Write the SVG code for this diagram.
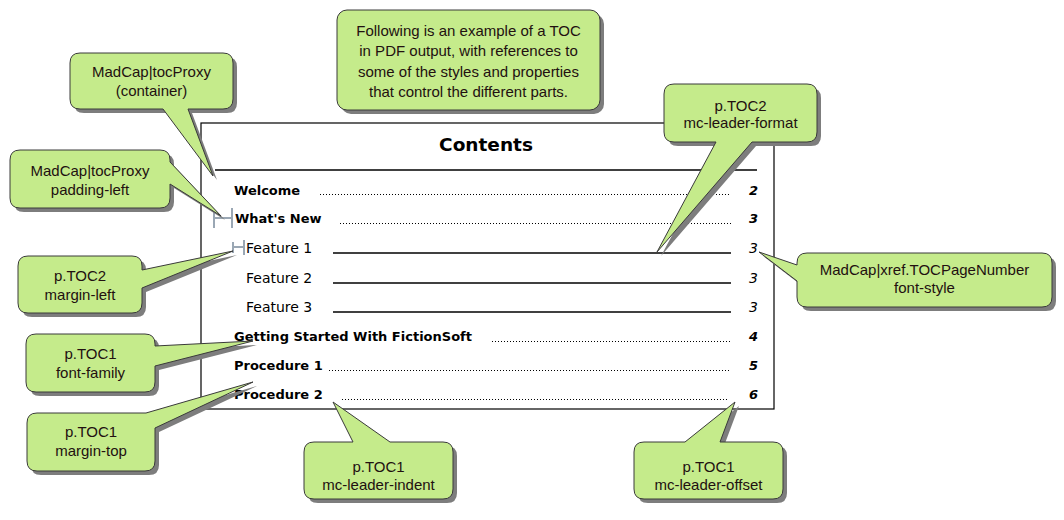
<svg xmlns="http://www.w3.org/2000/svg" xmlns:xlink="http://www.w3.org/1999/xlink" width="1064" height="520" viewBox="0 0 1064 520">
<style>
.bg{fill:#ffffff}
.shadow{fill:#7d7d7d}
.call{fill:#c5eb8b;stroke:#3a3a3a;stroke-width:1}
.ct{font-family:"Liberation Sans",Arial,sans-serif;font-size:15px;fill:#221010;text-anchor:middle}
.toc{fill:#ffffff;stroke:#000;stroke-width:1.2}
.t1{font-family:"DejaVu Sans",Verdana,sans-serif;font-size:13px;font-weight:bold;fill:#000}
.t2{font-family:"DejaVu Sans",Verdana,sans-serif;font-size:14px;fill:#000}
.p1{font-family:"DejaVu Sans",Verdana,sans-serif;font-size:13px;font-weight:bold;font-style:italic;fill:#000;text-anchor:end}
.p2{font-family:"DejaVu Sans",Verdana,sans-serif;font-size:14px;font-style:italic;fill:#000;text-anchor:end}
.dot{stroke:#000;stroke-width:1;stroke-dasharray:1 2;fill:none;shape-rendering:crispEdges}
.sol{stroke:#000;stroke-width:1.3;fill:none}
.mk{stroke:#9aa7b4;stroke-width:2;fill:none}
</style>
<rect class="bg" x="0" y="0" width="1064" height="520"/>

<g id="toc">
<rect class="toc" x="201" y="123" width="573" height="286"/>
<text x="486" y="151" font-family="DejaVu Sans, Verdana, sans-serif" font-size="18.5" font-weight="bold" text-anchor="middle">Contents</text>
<line class="sol" x1="215" y1="170" x2="757" y2="170"/>
<text class="t1" x="234" y="195">Welcome</text>
<line class="dot" x1="320" y1="194.5" x2="729" y2="194.5"/>
<text class="p1" x="758" y="195">2</text>
<text class="t1" x="235" y="223">What's New</text>
<line class="dot" x1="340" y1="223.5" x2="731" y2="223.5"/>
<text class="p1" x="758" y="223">3</text>
<text class="t2" x="246" y="253">Feature 1</text>
<line class="sol" x1="333" y1="253" x2="731" y2="253"/>
<text class="p2" x="758" y="253">3</text>
<text class="t2" x="246" y="283">Feature 2</text>
<line class="sol" x1="333" y1="283" x2="731" y2="283"/>
<text class="p2" x="758" y="283">3</text>
<text class="t2" x="246" y="312">Feature 3</text>
<line class="sol" x1="333" y1="312" x2="731" y2="312"/>
<text class="p2" x="758" y="312">3</text>
<text class="t1" x="234" y="341">Getting Started With FictionSoft</text>
<line class="dot" x1="492" y1="341.5" x2="731" y2="341.5"/>
<text class="p1" x="758" y="341">4</text>
<text class="t1" x="234" y="370">Procedure 1</text>
<line class="dot" x1="329" y1="370.5" x2="729" y2="370.5"/>
<text class="p1" x="758" y="370">5</text>
<text class="t1" x="234" y="399">Procedure 2</text>
<line class="dot" x1="342" y1="399.5" x2="729" y2="399.5"/>
<text class="p1" x="758" y="399">6</text>
<path class="mk" d="M214,212 V228 M232,208 V228 M214,218 H232"/>
<path class="mk" d="M233,242 V253 M244,240 V255 M233,247 H244"/>
</g>

<defs>
<path id="c1" d="M80,53 H223 Q233,53 233,63 V99 Q233,109 223,109 H188 L213,176 L163,109 H80 Q70,109 70,99 V63 Q70,53 80,53 Z"/>
<path id="c2" d="M20,150 H160 Q170,150 170,160 V162 L221,216 L170,184 V198 Q170,208 160,208 H20 Q10,208 10,198 V160 Q10,150 20,150 Z"/>
<path id="c3" d="M28,256 H132 Q142,256 142,266 V270 L233,251 L142,288 V303 Q142,313 132,313 H28 Q18,313 18,303 V266 Q18,256 28,256 Z"/>
<path id="c4" d="M36,334 H145 Q155,334 155,344 V346 L253,341 L155,366 V382 Q155,392 145,392 H36 Q26,392 26,382 V344 Q26,334 36,334 Z"/>
<path id="c5" d="M37,413 H146 L253,382 L155,428 V461 Q155,471 145,471 H37 Q27,471 27,461 V423 Q27,413 37,413 Z"/>
<path id="c6" d="M314,442 H353 L333,402 L390,442 H443 Q453,442 453,452 V489 Q453,499 443,499 H314 Q304,499 304,489 V452 Q304,442 314,442 Z"/>
<path id="c7" d="M644,442 H685 L735,402 L720,442 H773 Q783,442 783,452 V489 Q783,499 773,499 H644 Q634,499 634,489 V452 Q634,442 644,442 Z"/>
<path id="c8" d="M807,253 H1042 Q1052,253 1052,263 V297 Q1052,307 1042,307 H807 Q797,307 797,297 V281 L759,252 L797,265 V263 Q797,253 807,253 Z"/>
<path id="c9" d="M674,84 H807 Q817,84 817,94 V132 Q817,142 807,142 H752 L657,252 L716,142 H674 Q664,142 664,132 V94 Q664,84 674,84 Z"/>
<rect id="c10" x="337" y="10" width="263" height="100" rx="10" ry="10"/>
</defs>

<g id="connectors"></g>

<g id="callout-top">
<use xlink:href="#c10" class="shadow" transform="translate(4,4)"/>
<use xlink:href="#c10" class="call"/>
<text class="ct" x="468.5" y="36">Following is an example of a TOC</text>
<text class="ct" x="468.5" y="56">in PDF output, with references to</text>
<text class="ct" x="468.5" y="77">some of the styles and properties</text>
<text class="ct" x="468.5" y="97">that control the different parts.</text>
</g>

<g id="callout-container">
<use xlink:href="#c1" class="shadow" transform="translate(4,4)"/>
<use xlink:href="#c1" class="call"/>
<text class="ct" x="151.5" y="77">MadCap|tocProxy</text>
<text class="ct" x="151.5" y="96">(container)</text>
</g>

<g id="callout-padding">
<use xlink:href="#c2" class="shadow" transform="translate(4,4)"/>
<use xlink:href="#c2" class="call"/>
<text class="ct" x="90" y="176">MadCap|tocProxy</text>
<text class="ct" x="90" y="195">padding-left</text>
</g>

<g id="callout-margin-left">
<use xlink:href="#c3" class="shadow" transform="translate(4,4)"/>
<use xlink:href="#c3" class="call"/>
<text class="ct" x="80" y="281">p.TOC2</text>
<text class="ct" x="80" y="300">margin-left</text>
</g>

<g id="callout-font-family">
<use xlink:href="#c4" class="shadow" transform="translate(4,4)"/>
<use xlink:href="#c4" class="call"/>
<text class="ct" x="90.5" y="359">p.TOC1</text>
<text class="ct" x="90.5" y="378">font-family</text>
</g>

<g id="callout-margin-top">
<use xlink:href="#c5" class="shadow" transform="translate(4,4)"/>
<use xlink:href="#c5" class="call"/>
<text class="ct" x="91" y="437">p.TOC1</text>
<text class="ct" x="91" y="456">margin-top</text>
</g>

<g id="callout-leader-indent">
<use xlink:href="#c6" class="shadow" transform="translate(4,4)"/>
<use xlink:href="#c6" class="call"/>
<text class="ct" x="378.5" y="472">p.TOC1</text>
<text class="ct" x="378.5" y="490">mc-leader-indent</text>
</g>

<g id="callout-leader-offset">
<use xlink:href="#c7" class="shadow" transform="translate(4,4)"/>
<use xlink:href="#c7" class="call"/>
<text class="ct" x="708.5" y="472">p.TOC1</text>
<text class="ct" x="708.5" y="490">mc-leader-offset</text>
</g>

<g id="callout-font-style">
<use xlink:href="#c8" class="shadow" transform="translate(4,4)"/>
<use xlink:href="#c8" class="call"/>
<text class="ct" x="924.5" y="275">MadCap|xref.TOCPageNumber</text>
<text class="ct" x="924.5" y="293">font-style</text>
</g>

<g id="callout-leader-format">
<use xlink:href="#c9" class="shadow" transform="translate(4,4)"/>
<use xlink:href="#c9" class="call"/>
<text class="ct" x="740.5" y="111">p.TOC2</text>
<text class="ct" x="740.5" y="128">mc-leader-format</text>
</g>
</svg>
